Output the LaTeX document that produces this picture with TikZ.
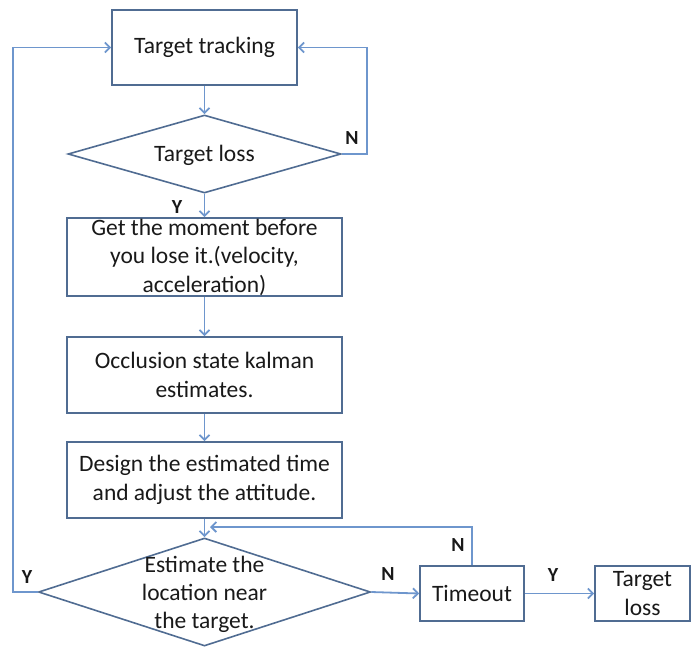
\documentclass[tikz,border=0pt]{standalone}
\usepackage{fontspec}
\setmainfont{Carlito}
\usetikzlibrary{shapes.geometric,arrows.meta}
\definecolor{linec}{RGB}{110,150,205}
\definecolor{borderc}{RGB}{80,108,146}
\definecolor{txtc}{RGB}{25,25,25}
\begin{document}
\begin{tikzpicture}[x=1pt,y=-1pt,
  box/.style={draw=borderc,line width=1.6pt,fill=white,rectangle,inner sep=0pt,
    align=center,text=txtc,font=\fontsize{23.5}{28.5}\selectfont},
  dia/.style={draw=borderc,line width=1.6pt,diamond,inner sep=0pt},
  txt/.style={align=center,text=txtc,font=\fontsize{23.5}{28}\selectfont,inner sep=0pt},
  lbl/.style={text=txtc,font=\fontsize{20}{22}\selectfont\bfseries,inner sep=0pt},
  arr/.style={draw=linec,line width=1.8pt,-{Straight Barb[length=5pt,width=10pt]}}]
\useasboundingbox (0,0) rectangle (692,646);

\node[box,minimum width=185pt,minimum height=75pt] (t1) at (204.5,47.5) {Target tracking};
\node[dia,minimum width=273pt,minimum height=78pt] (d1) at (204.5,154) {};
\node[txt] (d1t) at (204.5,155) {Target loss};
\node[box,minimum width=275pt,minimum height=78pt] (b2) at (204.5,257) {Get the moment before\\you lose it.(velocity,\\acceleration)};
\node[box,minimum width=275pt,minimum height=76pt] (b3) at (204.5,375) {Occlusion state kalman\\estimates.};
\node[box,minimum width=275pt,minimum height=76pt] (b4) at (204.5,480) {Design the estimated time\\and adjust the attitude.};
\node[dia,minimum width=332pt,minimum height=108pt] (d2) at (204.5,592) {};
\node[txt] (d2t) at (204.5,594) {Estimate the\\location near\\the target.};
\node[box,minimum width=104pt,minimum height=55pt] (to) at (472,593.5) {Timeout};
\node[box,minimum width=95pt,minimum height=55pt] (tl) at (642.5,593.5) {Target\\loss};

\coordinate (rN) at (367,154);
\coordinate (rT) at (367,47.5);
\coordinate (lY) at (13,592);
\coordinate (lT) at (13,47.5);
\coordinate (fbA) at (472,527);
\coordinate (fbB) at (210,527);

\draw[arr] (t1.south) -- (d1.north);
\draw[arr] (d1.south) -- (b2.north);
\draw[arr] (d1.east) -- (rN) -- (rT) -- (t1.east);
\draw[arr] (b2.south) -- (b3.north);
\draw[arr] (b3.south) -- (b4.north);
\draw[arr] (b4.south) -- (d2.north);
\draw[arr] (d2.west) -- (lY) -- (lT) -- (t1.west);
\draw[arr] (d2.east) -- (to.west);
\draw[arr] (to.north) -- (fbA) -- (fbB);
\draw[arr] (to.east) -- (tl.west);

\node[lbl] (lab1) at (352,138) {N};
\node[lbl] (lab2) at (177,207) {Y};
\node[lbl] (lab3) at (27,577) {Y};
\node[lbl] (lab4) at (388,574) {N};
\node[lbl] (lab5) at (458,545) {N};
\node[lbl] (lab6) at (553,575) {Y};
\end{tikzpicture}
\end{document}
